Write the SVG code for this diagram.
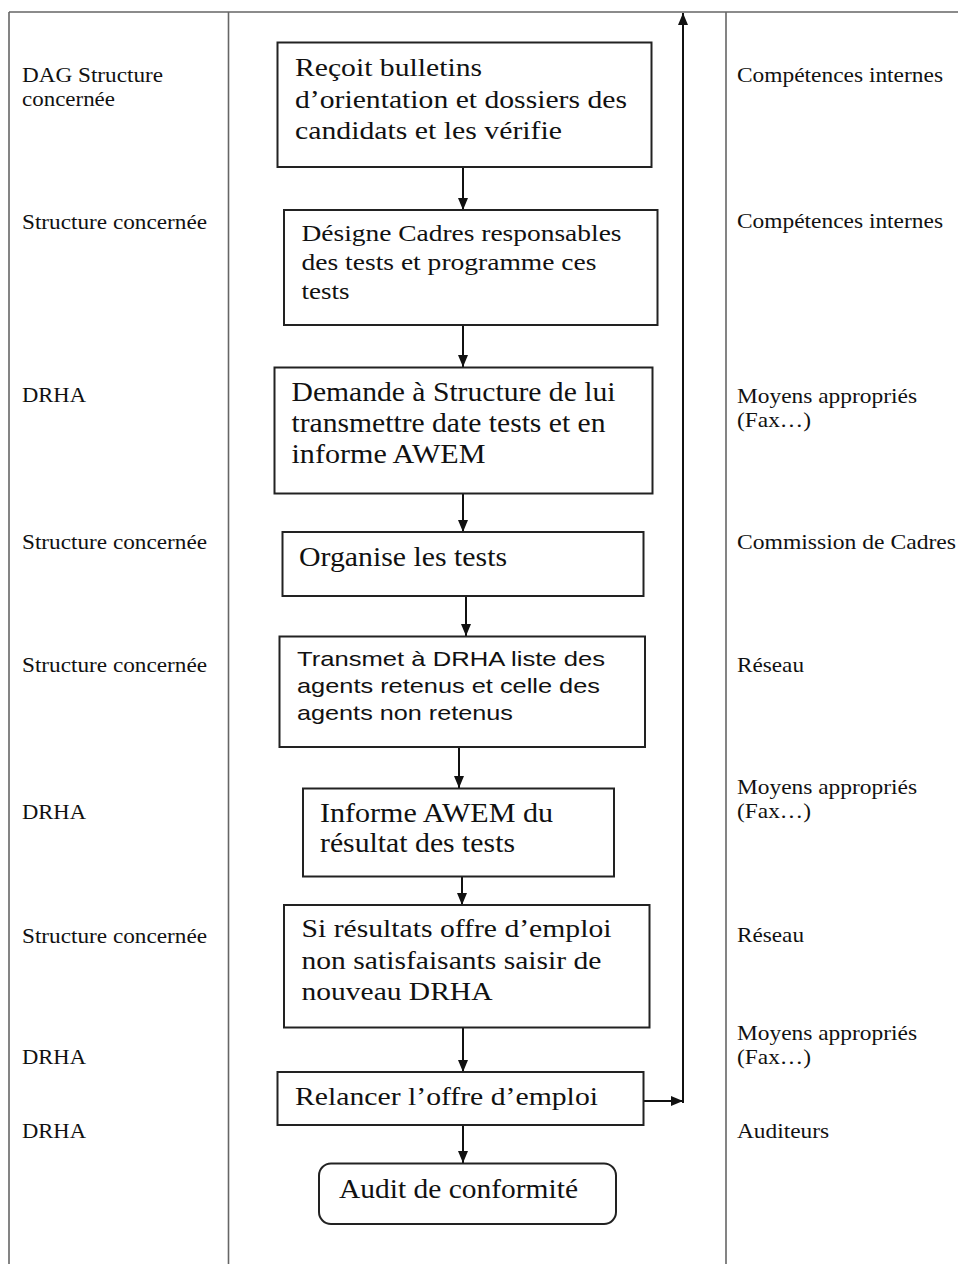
<svg xmlns="http://www.w3.org/2000/svg" width="958" height="1264" viewBox="0 0 958 1264">
<defs>
<marker id="ah" viewBox="0 0 12 10" refX="12" refY="5" markerWidth="12" markerHeight="10" markerUnits="userSpaceOnUse" orient="auto"><path d="M0,0 L12,5 L0,10 z" fill="#111"/></marker>
<style>
.grid{stroke:#666;stroke-width:1.6;fill:none}
.box{fill:#fff;stroke:#222;stroke-width:2}
.conn{stroke:#111;stroke-width:2;fill:none;marker-end:url(#ah)}
.lab{font-family:"Liberation Serif","Times New Roman",serif;font-size:22px;fill:#111}
.t{font-family:"Liberation Serif","Times New Roman",serif;fill:#111}
.s{font-family:"Liberation Sans",Arial,sans-serif;fill:#111}
</style>
</defs>
<rect width="958" height="1264" fill="#fff"/>
<g id="table">
<path class="grid" d="M9,12 H958 M9,12 V1264 M228.5,12 V1264 M726,12 V1264"/>
</g>
<g id="left-labels">
<text class="lab" x="22" y="82" textLength="141" lengthAdjust="spacingAndGlyphs">DAG Structure</text>
<text class="lab" x="22" y="106" textLength="93" lengthAdjust="spacingAndGlyphs">concernée</text>
<text class="lab" x="22" y="229" textLength="185" lengthAdjust="spacingAndGlyphs">Structure concernée</text>
<text class="lab" x="22" y="402" textLength="64" lengthAdjust="spacingAndGlyphs">DRHA</text>
<text class="lab" x="22" y="549" textLength="185" lengthAdjust="spacingAndGlyphs">Structure concernée</text>
<text class="lab" x="22" y="672" textLength="185" lengthAdjust="spacingAndGlyphs">Structure concernée</text>
<text class="lab" x="22" y="819" textLength="64" lengthAdjust="spacingAndGlyphs">DRHA</text>
<text class="lab" x="22" y="943" textLength="185" lengthAdjust="spacingAndGlyphs">Structure concernée</text>
<text class="lab" x="22" y="1064" textLength="64" lengthAdjust="spacingAndGlyphs">DRHA</text>
<text class="lab" x="22" y="1138" textLength="64" lengthAdjust="spacingAndGlyphs">DRHA</text>
</g>
<g id="right-labels">
<text class="lab" x="737" y="82" textLength="206" lengthAdjust="spacingAndGlyphs">Compétences internes</text>
<text class="lab" x="737" y="228" textLength="206" lengthAdjust="spacingAndGlyphs">Compétences internes</text>
<text class="lab" x="737" y="403" textLength="180" lengthAdjust="spacingAndGlyphs">Moyens appropriés</text>
<text class="lab" x="737" y="427" textLength="74" lengthAdjust="spacingAndGlyphs">(Fax…)</text>
<text class="lab" x="737" y="549" textLength="219" lengthAdjust="spacingAndGlyphs">Commission de Cadres</text>
<text class="lab" x="737" y="672" textLength="67" lengthAdjust="spacingAndGlyphs">Réseau</text>
<text class="lab" x="737" y="794" textLength="180" lengthAdjust="spacingAndGlyphs">Moyens appropriés</text>
<text class="lab" x="737" y="818" textLength="74" lengthAdjust="spacingAndGlyphs">(Fax…)</text>
<text class="lab" x="737" y="942" textLength="67" lengthAdjust="spacingAndGlyphs">Réseau</text>
<text class="lab" x="737" y="1040" textLength="180" lengthAdjust="spacingAndGlyphs">Moyens appropriés</text>
<text class="lab" x="737" y="1064" textLength="74" lengthAdjust="spacingAndGlyphs">(Fax…)</text>
<text class="lab" x="737" y="1138" textLength="92" lengthAdjust="spacingAndGlyphs">Auditeurs</text>
</g>
<g id="connectors">
<path class="conn" d="M463,167 V210"/>
<path class="conn" d="M463,325 V367"/>
<path class="conn" d="M463,494 V532"/>
<path class="conn" d="M466,596 V636"/>
<path class="conn" d="M459,747 V788"/>
<path class="conn" d="M462,877 V905"/>
<path class="conn" d="M463,1027 V1072"/>
<path class="conn" d="M463,1125 V1163"/>
<path class="conn" d="M643,1101 H683"/>
<path class="conn" d="M683,1103 V13"/>
</g>
<g id="n1">
<rect class="box" x="277.5" y="42.5" width="374" height="124.5"/>
<text class="t" font-size="26" x="295" y="76" textLength="187" lengthAdjust="spacingAndGlyphs">Reçoit bulletins</text>
<text class="t" font-size="26" x="295" y="107.5" textLength="332" lengthAdjust="spacingAndGlyphs">d’orientation et dossiers des</text>
<text class="t" font-size="26" x="295" y="138.5" textLength="267" lengthAdjust="spacingAndGlyphs">candidats et les vérifie</text>
</g>
<g id="n2">
<rect class="box" x="284" y="210" width="373.5" height="115"/>
<text class="t" font-size="24" x="301.5" y="241" textLength="320" lengthAdjust="spacingAndGlyphs">Désigne Cadres responsables</text>
<text class="t" font-size="24" x="301.5" y="270" textLength="295" lengthAdjust="spacingAndGlyphs">des tests et programme ces</text>
<text class="t" font-size="24" x="301.5" y="298.5" textLength="48" lengthAdjust="spacingAndGlyphs">tests</text>
</g>
<g id="n3">
<rect class="box" x="274.5" y="367.5" width="378" height="126"/>
<text class="t" font-size="27" x="291.5" y="401" textLength="324" lengthAdjust="spacingAndGlyphs">Demande à Structure de lui</text>
<text class="t" font-size="27" x="291.5" y="432" textLength="314" lengthAdjust="spacingAndGlyphs">transmettre date tests et en</text>
<text class="t" font-size="27" x="291.5" y="463" textLength="194" lengthAdjust="spacingAndGlyphs">informe AWEM</text>
</g>
<g id="n4">
<rect class="box" x="282.5" y="532" width="361" height="64"/>
<text class="t" font-size="28" x="299" y="565.5" textLength="208" lengthAdjust="spacingAndGlyphs">Organise les tests</text>
</g>
<g id="n5">
<rect class="box" x="279.5" y="636.5" width="365.5" height="110.5"/>
<text class="s" font-size="21" x="297" y="666" textLength="308" lengthAdjust="spacingAndGlyphs">Transmet à DRHA liste des</text>
<text class="s" font-size="21" x="297" y="692.5" textLength="303" lengthAdjust="spacingAndGlyphs">agents retenus et celle des</text>
<text class="s" font-size="21" x="297" y="719.5" textLength="216" lengthAdjust="spacingAndGlyphs">agents non retenus</text>
</g>
<g id="n6">
<rect class="box" x="303" y="788.5" width="311" height="88"/>
<text class="t" font-size="27" x="320" y="821.5" textLength="233" lengthAdjust="spacingAndGlyphs">Informe AWEM du</text>
<text class="t" font-size="27" x="320" y="852" textLength="195" lengthAdjust="spacingAndGlyphs">résultat des tests</text>
</g>
<g id="n7">
<rect class="box" x="284" y="905" width="365.5" height="122.5"/>
<text class="t" font-size="25.5" x="301.5" y="937" textLength="310" lengthAdjust="spacingAndGlyphs">Si résultats offre d’emploi</text>
<text class="t" font-size="25.5" x="301.5" y="968.5" textLength="300" lengthAdjust="spacingAndGlyphs">non satisfaisants saisir de</text>
<text class="t" font-size="25.5" x="301.5" y="1000" textLength="191" lengthAdjust="spacingAndGlyphs">nouveau DRHA</text>
</g>
<g id="n8">
<rect class="box" x="277.5" y="1072" width="366" height="53"/>
<text class="t" font-size="25.5" x="295" y="1105" textLength="303" lengthAdjust="spacingAndGlyphs">Relancer l’offre d’emploi</text>
</g>
<g id="n9">
<rect class="box" x="319" y="1163.5" width="297" height="60.5" rx="12" ry="12"/>
<text class="t" font-size="26.5" x="339" y="1198" textLength="239" lengthAdjust="spacingAndGlyphs">Audit de conformité</text>
</g>
</svg>
